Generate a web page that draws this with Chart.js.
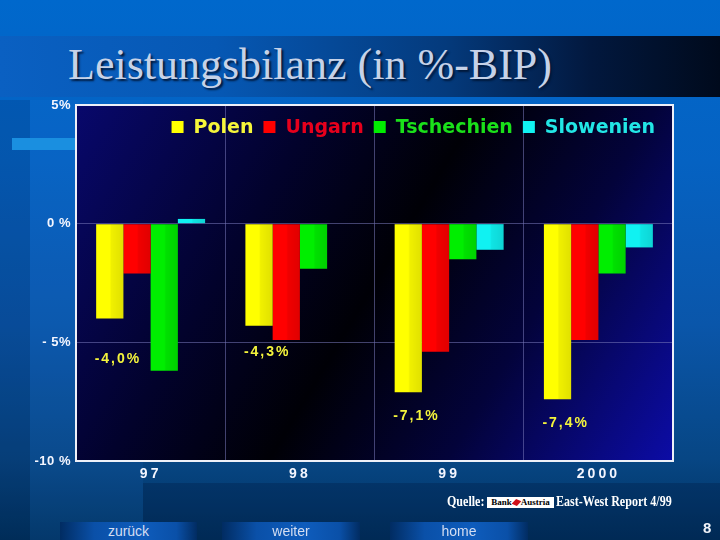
<!DOCTYPE html>
<html><head><meta charset="utf-8">
<script src="https://cdn.jsdelivr.net/npm/chart.js@4.4.0/dist/chart.umd.min.js"></script>
<style>
html,body{margin:0;padding:0;width:720px;height:540px;overflow:hidden;background:#0060c0;}
#stage{position:relative;width:720px;height:540px;overflow:hidden;
  background:linear-gradient(to bottom,#0068cc 0%,#0562c2 30%,#0a56aa 60%,#074684 85%,#01325f 100%);
  font-family:'Liberation Sans',Arial,sans-serif;}
.abs{position:absolute;}
#leftstrip{left:0;top:100px;width:30px;height:440px;background:rgba(0,15,50,0.14);}
#col{left:30px;top:100px;width:113px;height:440px;background:rgba(40,120,220,0.10);}
#bottomband{left:143px;top:483px;width:577px;height:57px;background:rgba(0,20,60,0.28);}
#band{left:0;top:36px;width:720px;height:61px;background:linear-gradient(to right,#0a60c2 0%,#0658b4 30%,#043a7c 62%,#02183e 82%,#000a1c 100%);}
#stripe{left:12px;top:138px;width:70px;height:12px;background:#1a8fe0;}
#title{left:68px;top:43px;font-family:'Liberation Serif','Times New Roman',serif;font-size:44px;line-height:44px;color:#c6d2e8;text-shadow:2px 2px 2px #00183a;white-space:nowrap;}
canvas{position:absolute;left:0;top:0;}
.btn{top:522px;height:20px;line-height:18px;text-align:center;color:#d4def2;font-size:14px;
  background:linear-gradient(to right,#012c62 0%,#0a50a8 25%,#0e5cbc 60%,#0a50a8 85%,#012c62 100%);}
.src{top:494px;font-family:'Liberation Serif','Times New Roman',serif;font-weight:bold;font-size:14px;line-height:16px;color:#ffffff;transform:scaleX(0.86);transform-origin:left center;white-space:nowrap;}
#logo{left:487px;top:497px;width:67px;height:11px;background:#fff;color:#000;font-family:'Liberation Serif',serif;font-weight:bold;font-size:9px;line-height:11px;text-align:center;white-space:nowrap;}
#logo i{display:inline-block;width:7px;height:5px;background:#d0101a;transform:skewX(-30deg) rotate(20deg);margin:0 1px;vertical-align:middle;}
#pnum{left:703px;top:519px;font-size:15px;font-weight:bold;color:#f2f4fa;}
</style></head>
<body>
<div id="stage">
  <div class="abs" id="leftstrip"></div>
  <div class="abs" id="col"></div>
  <div class="abs" id="bottomband"></div>
  <div class="abs" id="band"></div>
  <div class="abs" id="stripe"></div>
  <div class="abs" id="title">Leistungsbilanz (in %-BIP)</div>
  <canvas id="c" width="720" height="540"></canvas>
  <div class="abs src" style="left:447px;">Quelle:</div>
  <div class="abs" id="logo">Bank<i></i>Austria</div>
  <div class="abs src" style="left:556px;">East-West Report 4/99</div>
  <div class="abs btn" style="left:60px;width:137px;">zurück</div>
  <div class="abs btn" style="left:222px;width:138px;">weiter</div>
  <div class="abs btn" style="left:390px;width:138px;">home</div>
  <div class="abs" id="pnum">8</div>
</div>
<script>
// ---- data ----
const years = ['97', '98', '99', '2000'];
const seriesNames = ['Polen', 'Ungarn', 'Tschechien', 'Slowenien'];
const polen = [-4.0, -4.3, -7.1, -7.4];
const ungarn = [-2.1, -4.9, -5.4, -4.9];
const tschechien = [-6.2, -1.9, -1.5, -2.1];
const slowenien = [0.2, null, -1.1, -1.0];
const yTicks = [-10, -5, 0, 5];
const yTickLabels = ['-10 %', '- 5%', '0 %', '5%'];

// ---- styles ----
const barColors = ['#ffff00', '#ff0000', '#00ee00', '#10f2f2'];
const legendTextColors = ['#f6f63a', '#e6001c', '#1ae01a', '#22e6e6'];
const gridColor = 'rgba(120,120,185,0.55)';
const valueLabelGap = [41, 26, 24, 24];

function fmt(v) { return v.toFixed(1).replace('.', ',') + '%'; }

function patchSpacing(scale, spacing) {
  if (scale._lsPatched) return;
  const orig = scale.drawLabels;
  scale.drawLabels = function (ca) {
    const c = this.ctx; c.save(); c.letterSpacing = spacing; orig.call(this, ca); c.restore();
  };
  scale._lsPatched = true;
}

const slidePlugin = {
  id: 'slide',
  afterLayout(chart) {
    patchSpacing(chart.scales.x, '3px');
    patchSpacing(chart.scales.y, '0.5px');
  },
  beforeDraw(chart) {
    const { ctx, chartArea: a } = chart;
    const g = ctx.createLinearGradient(a.left, a.top, a.right, a.bottom);
    g.addColorStop(0, '#08086c');
    g.addColorStop(0.3, '#02022c');
    g.addColorStop(0.5, '#000006');
    g.addColorStop(0.72, '#03033a');
    g.addColorStop(1, '#0c0ca6');
    ctx.save();
    ctx.fillStyle = g;
    ctx.fillRect(a.left, a.top, a.right - a.left, a.bottom - a.top);
    ctx.restore();
  },
  afterDatasetsDraw(chart) {
    const { ctx, chartArea: a } = chart;
    ctx.save();
    chart.data.datasets.forEach((ds, di) => {
      chart.getDatasetMeta(di).data.forEach((el, i) => {
        if (ds.data[i] == null) return;
        const p = el.getProps(['x', 'y', 'base', 'width'], true);
        const l = p.x - p.width / 2;
        const top = Math.min(p.y, p.base), h = Math.abs(p.base - p.y);
        const g = ctx.createLinearGradient(l, 0, l + p.width, 0);
        g.addColorStop(0, 'rgba(0,0,0,0)');
        g.addColorStop(0.5, 'rgba(0,0,0,0)');
        g.addColorStop(0.56, 'rgba(0,0,0,0.06)');
        g.addColorStop(1, 'rgba(0,0,0,0.12)');
        ctx.fillStyle = g;
        ctx.fillRect(l, top, p.width, h);
      });
    });
    // value labels for Polen
    const meta = chart.getDatasetMeta(0);
    ctx.font = 'bold 14px "Liberation Sans", Arial, sans-serif';
    ctx.fillStyle = '#f4f43c';
    ctx.textAlign = 'center';
    ctx.textBaseline = 'middle';
    ctx.letterSpacing = '2px';
    meta.data.forEach((el, i) => {
      const p = el.getProps(['x', 'y', 'width'], true);
      ctx.fillText(fmt(polen[i]), p.x + p.width * 0.3, p.y + valueLabelGap[i]);
    });
    ctx.letterSpacing = '0px';
    // legend inside plot area
    ctx.font = 'bold 19px "DejaVu Sans", Verdana, sans-serif';
    ctx.textAlign = 'left';
    ctx.textBaseline = 'middle';
    const box = 12, gapBT = 10, gapItem = 10;
    const dsets = chart.data.datasets;
    const widths = dsets.map(ds => ctx.measureText(ds.label).width);
    const total = widths.reduce((s, w) => s + box + gapBT + w, 0) + gapItem * (dsets.length - 1);
    let x = a.right - 18 - total;
    const cy = a.top + 23;
    dsets.forEach((ds, i) => {
      ctx.fillStyle = ds.backgroundColor;
      ctx.fillRect(x, cy - box / 2 - 1, box, box);
      x += box + gapBT;
      ctx.fillStyle = legendTextColors[i];
      ctx.fillText(ds.label, x, cy);
      x += widths[i] + gapItem;
    });
    ctx.restore();
  },
  afterDraw(chart) {
    const { ctx, chartArea: a } = chart;
    ctx.save();
    ctx.strokeStyle = '#eef0f8';
    ctx.lineWidth = 2;
    ctx.strokeRect(a.left, a.top, a.right - a.left, a.bottom - a.top);
    ctx.restore();
  }
};

const datasetsValues = [polen, ungarn, tschechien, slowenien];

new Chart(document.getElementById('c'), {
  type: 'bar',
  data: {
    labels: years,
    datasets: datasetsValues.map((vals, i) => ({
      label: seriesNames[i],
      data: vals,
      backgroundColor: barColors[i],
      borderWidth: 0,
      barPercentage: 1.0,
      categoryPercentage: 0.73
    }))
  },
  options: {
    responsive: false,
    animation: false,
    devicePixelRatio: 1,
    layout: { padding: { left: 0, top: 105, right: 47, bottom: 49 } },
    plugins: {
      tooltip: { enabled: false },
      title: { display: false },
      legend: { display: false }
    },
    scales: {
      x: {
        offset: true,
        grid: { color: gridColor, lineWidth: 1, drawTicks: false, offset: true },
        border: { display: false },
        ticks: { color: '#f4f6ff', padding: 5, font: { family: '"Liberation Sans", Arial, sans-serif', weight: 'bold', size: 14 } },
        afterFit: (s) => { s.height = 30; }
      },
      y: {
        min: -10, max: 5,
        afterBuildTicks: (s) => { s.ticks = yTicks.map(v => ({ value: v })); },
        grid: {
          drawTicks: false, lineWidth: 1,
          color: (c) => (c.tick && (c.tick.value === 0 || c.tick.value === -5)) ? gridColor : 'rgba(0,0,0,0)'
        },
        border: { display: false },
        ticks: {
          color: '#f4f6ff', padding: 5,
          font: { family: '"Liberation Sans", Arial, sans-serif', weight: 'bold', size: 13 },
          callback: (v) => { const i = yTicks.indexOf(v); return i >= 0 ? yTickLabels[i] : ''; }
        },
        afterFit: (s) => { s.width = 76; }
      }
    }
  },
  plugins: [slidePlugin]
});
</script>
</body></html>
